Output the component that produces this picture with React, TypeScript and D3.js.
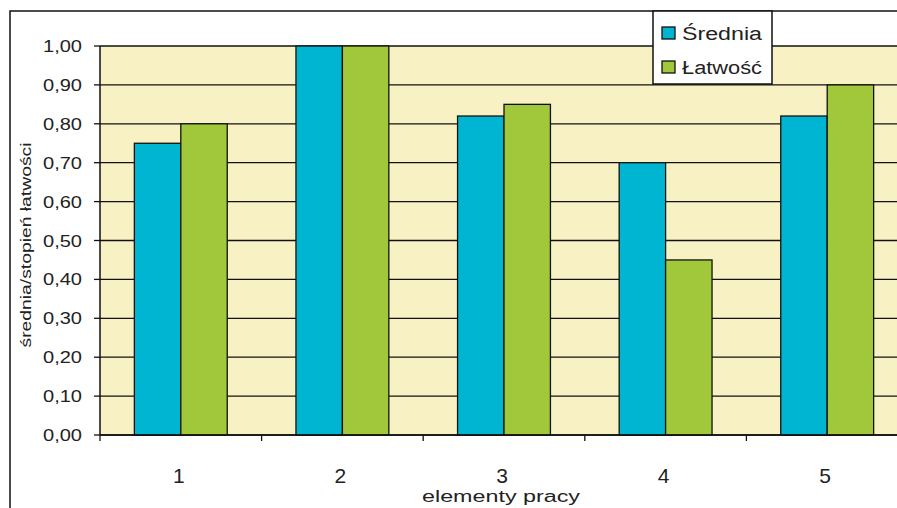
import { useEffect, useRef } from "react";
import * as d3 from "d3";

const categories = ["1", "2", "3", "4", "5"];
const seriesNames = ["Średnia", "Łatwość"];
const srednia = [0.75, 1.0, 0.82, 0.7, 0.82];
const latwosc = [0.8, 1.0, 0.85, 0.45, 0.9];
const yTicks = [0, 0.1, 0.2, 0.3, 0.4, 0.5, 0.6, 0.7, 0.8, 0.9, 1.0];
const colors = ["#00b5d1", "#a1c83a"];

const W = 897;
const H = 508;

const App = () => {
  const ref = useRef<SVGSVGElement | null>(null);

  useEffect(() => {
    const svg = d3.select(ref.current);
    svg.selectAll("*").remove();

    const plot = { left: 100, right: 908, top: 46, bottom: 435 };
    const font = "Arial, 'Liberation Sans', sans-serif";

    // outer frame
    svg
      .append("rect")
      .attr("x", 10)
      .attr("y", 11)
      .attr("width", 920)
      .attr("height", 520)
      .attr("fill", "#fff")
      .attr("stroke", "#111")
      .attr("stroke-width", 1.5);

    const x = d3.scaleBand<string>().domain(categories).range([plot.left, plot.right]);
    const xs = d3
      .scaleBand<string>()
      .domain(seriesNames)
      .range([0, x.bandwidth()])
      .paddingInner(0)
      .paddingOuter(0.74);
    const y = d3.scaleLinear().domain([0, 1]).range([plot.bottom, plot.top]);

    svg
      .append("rect")
      .attr("x", plot.left)
      .attr("y", plot.top)
      .attr("width", plot.right - plot.left)
      .attr("height", plot.bottom - plot.top)
      .attr("fill", "#f8f1c4");

    // gridlines
    svg
      .append("g")
      .selectAll("line")
      .data(yTicks)
      .join("line")
      .attr("x1", plot.left)
      .attr("x2", plot.right)
      .attr("y1", (d) => y(d))
      .attr("y2", (d) => y(d))
      .attr("stroke", "#111")
      .attr("stroke-width", 1.3);

    // bars
    const series = [srednia, latwosc];
    series.forEach((vals, si) => {
      svg
        .append("g")
        .selectAll("rect")
        .data(vals)
        .join("rect")
        .attr("x", (_, i) => x(categories[i])! + xs(seriesNames[si])!)
        .attr("y", (d) => y(d))
        .attr("width", xs.bandwidth())
        .attr("height", (d) => y(0) - y(d))
        .attr("fill", colors[si])
        .attr("stroke", "#111")
        .attr("stroke-width", 1.3);
    });

    // y axis
    const ya = svg.append("g").attr("transform", `translate(${plot.left},0)`);
    ya.append("line")
      .attr("y1", plot.top)
      .attr("y2", plot.bottom)
      .attr("stroke", "#111")
      .attr("stroke-width", 1.5);
    ya.selectAll("line.t")
      .data(yTicks)
      .join("line")
      .attr("class", "t")
      .attr("x1", -6)
      .attr("x2", 0)
      .attr("y1", (d) => y(d))
      .attr("y2", (d) => y(d))
      .attr("stroke", "#111")
      .attr("stroke-width", 1.3);
    ya.selectAll("text")
      .data(yTicks)
      .join("text")
      .attr("x", -18)
      .attr("y", (d) => y(d) + 6)
      .attr("text-anchor", "end")
      .attr("font-family", font)
      .attr("font-size", 17)
      .attr("fill", "#222")
      .attr("textLength", 39)
      .attr("lengthAdjust", "spacingAndGlyphs")
      .text((d) => d3.format(".2f")(d).replace(".", ","));

    // x axis
    const xa = svg.append("g");
    xa.append("line")
      .attr("x1", plot.left)
      .attr("x2", plot.right)
      .attr("y1", plot.bottom)
      .attr("y2", plot.bottom)
      .attr("stroke", "#111")
      .attr("stroke-width", 1.5);
    xa.selectAll("line.t")
      .data(categories)
      .join("line")
      .attr("class", "t")
      .attr("x1", (d) => x(d)!)
      .attr("x2", (d) => x(d)!)
      .attr("y1", plot.bottom)
      .attr("y2", plot.bottom + 6)
      .attr("stroke", "#111")
      .attr("stroke-width", 1.3);
    xa.selectAll("text")
      .data(categories)
      .join("text")
      .attr("x", (d) => x(d)! + x.bandwidth() / 2 - 2)
      .attr("y", 483)
      .attr("text-anchor", "middle")
      .attr("font-family", font)
      .attr("font-size", 21)
      .attr("fill", "#222")
      .text((d) => d);

    svg
      .append("text")
      .attr("x", 501)
      .attr("y", 502)
      .attr("text-anchor", "middle")
      .attr("font-family", font)
      .attr("font-size", 16)
      .attr("fill", "#222")
      .attr("textLength", 158)
      .attr("lengthAdjust", "spacingAndGlyphs")
      .text("elementy pracy");

    svg
      .append("text")
      .attr("transform", "translate(31,245) rotate(-90)")
      .attr("text-anchor", "middle")
      .attr("font-family", font)
      .attr("font-size", 15)
      .attr("fill", "#222")
      .attr("textLength", 205)
      .attr("lengthAdjust", "spacingAndGlyphs")
      .text("średnia/stopień łatwości");

    // legend
    const lg = svg.append("g");
    lg.append("rect")
      .attr("x", 653)
      .attr("y", 11)
      .attr("width", 119)
      .attr("height", 73)
      .attr("fill", "#fff")
      .attr("stroke", "#111")
      .attr("stroke-width", 1.5);
    seriesNames.forEach((name, i) => {
      lg.append("rect")
        .attr("x", 662)
        .attr("y", 27 + i * 34)
        .attr("width", 13)
        .attr("height", 12)
        .attr("fill", colors[i])
        .attr("stroke", "#111")
        .attr("stroke-width", 1.3);
      lg.append("text")
        .attr("x", 682)
        .attr("y", 40 + i * 34)
        .attr("font-family", font)
        .attr("font-size", 18)
        .attr("fill", "#222")
        .attr("textLength", 80)
        .attr("lengthAdjust", "spacingAndGlyphs")
        .text(name);
    });
  }, []);

  return (
    <svg
      ref={ref}
      width={W}
      height={H}
      style={{ position: "absolute", left: 0, top: 0, display: "block" }}
    />
  );
};

export default App;
